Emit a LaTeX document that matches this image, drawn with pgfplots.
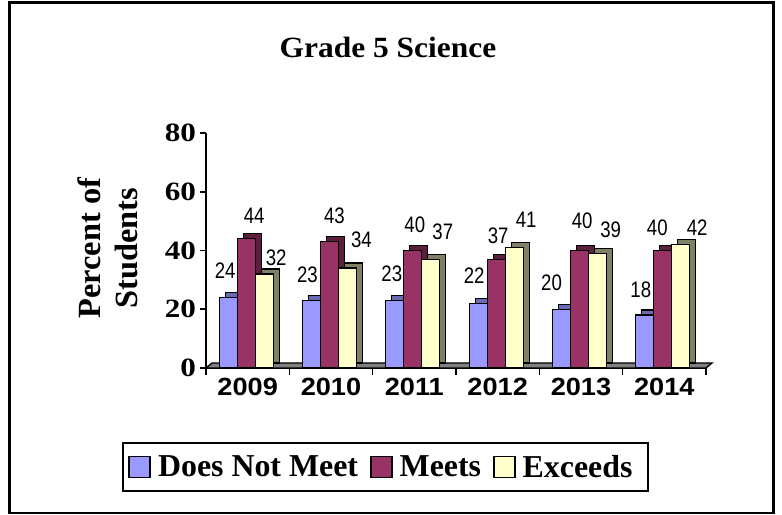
\documentclass[border=0pt]{standalone}
\usepackage{fontspec}
\setmainfont{Liberation Serif}
\newfontfamily\titlefont[FakeStretch=1.07]{Liberation Serif}
\newfontfamily\ytfont[FakeStretch=1.18]{Liberation Serif}
\newfontfamily\xtfont[FakeStretch=1.09]{Liberation Sans}
\newfontfamily\dlfont[FakeStretch=0.83]{Liberation Sans}
\usepackage{pgfplots}
\pgfplotsset{compat=1.18}
\usepackage{pgfplotstable}

\definecolor{cBlue}{HTML}{9999FF}
\definecolor{cBlueD}{HTML}{6B6BB3}
\definecolor{cMaroon}{HTML}{993366}
\definecolor{cMaroonD}{HTML}{5C1F3D}
\definecolor{cYellow}{HTML}{FFFFCC}
\definecolor{cYellowD}{HTML}{808066}
\definecolor{cFloor}{HTML}{808080}

% x = year index (2009..2014), y = percent, dx/dy = label position (bp) from category centre / bar top
\pgfplotstableread{
x y dx dy
0 24 -22.5 26.5
1 23 -23.5 26
2 23 -22.5 26.4
3 22 -23.5 28
4 20 -29.5 26
5 18 -23.5 25
}\tblue
\pgfplotstableread{
x y dx dy
0 44 6.5 23
1 43 3.5 26
2 40 0.5 25.5
3 37 0.5 24
4 40 1.2 30
5 40 -7 22.5
}\tmaroon
\pgfplotstableread{
x y dx dy
0 32 28.5 16.5
1 34 30.5 28
2 37 28.5 28
3 41 28.5 27.6
4 39 29.7 23.4
5 42 32.8 16.6
}\tyellow

\pgfplotsset{
  mylegend/.style={legend image code/.code={\draw[##1, draw=black, line width=1.6bp] (0bp,-10.5bp) rectangle (21bp,10.5bp);}},
  frontbar/.style={ybar, bar width=18bp, draw=black, line width=1.3bp,
    visualization depends on={\thisrow{dx} \as \ldx},
    visualization depends on={\thisrow{dy} \as \ldy},
    nodes near coords,
    every node near coord/.append style={font=\dlfont\fontsize{22.5}{23}\selectfont, anchor=center, inner sep=0pt, text=black, xshift=\ldx*1bp, yshift=\ldy*1bp}},
  backbar/.style={ybar, bar width=18bp, draw=black, line width=1.3bp, yshift=5bp, forget plot},
}

\begin{document}
\begin{tikzpicture}
\useasboundingbox (0,0) rectangle (782bp,515bp);
\draw[line width=2.5bp] (9.5bp,2bp) rectangle (773.5bp,512.5bp);
\begin{axis}[
  at={(206bp,147bp)}, anchor=south west,
  scale only axis, width=500bp, height=235bp,
  xmin=-0.5, xmax=5.5, ymin=0, ymax=80,
  axis lines*=left,
  axis line style={line width=2.4bp, -},
  clip=false,
  ytick={0,20,40,60,80},
  xtick={-0.5,0.5,1.5,2.5,3.5,4.5,5.5},
  xticklabels={2009,2010,2011,2012,2013,2014,{}},
  xticklabel style={xshift=41.67bp, font=\xtfont\bfseries\fontsize{25}{25}\selectfont},
  yticklabel style={font=\ytfont\bfseries\fontsize{26.5}{27}\selectfont},
  /pgf/number format/assume math mode=true,
  tick align=outside,
  major tick length=6.5bp,
  tick style={line width=1.6bp, black},
  title={Grade 5 Science},
  title style={at={(axis description cs:0.364,1.34)}, anchor=center, font=\titlefont\bfseries\fontsize{29.5}{30}\selectfont},
  ylabel={Percent of\\Students},
  ylabel style={at={(axis description cs:-0.196,0.51)}, anchor=center, align=center, font=\bfseries\fontsize{32.5}{37.5}\selectfont},
  legend columns=3,
  legend style={at={(axis description cs:0.359,-0.421)}, anchor=center, draw=black, line width=2bp,
    font=\bfseries\fontsize{32}{34}\selectfont, inner xsep=5bp, inner ysep=12.5bp,
    nodes={inner sep=0pt},
    /tikz/every odd column/.append style={column sep=7bp},
    /tikz/every even column/.append style={column sep=12bp}},
]
\draw[fill=cFloor, draw=black, line width=1.3bp] (axis cs:-0.5,0) -- (axis cs:5.5,0) -- ([shift={(6bp,5bp)}]axis cs:5.5,0) -- ([shift={(6bp,5bp)}]axis cs:-0.5,0) -- cycle;

\addplot[backbar, bar shift=-13.5bp, fill=cBlueD] table[x=x,y=y]{\tblue};
\addplot[frontbar, bar shift=-19.5bp, fill=cBlue, mylegend] table[x=x,y=y]{\tblue};
\addlegendentry{Does Not Meet}
\addplot[backbar, bar shift=4.5bp, fill=cMaroonD] table[x=x,y=y]{\tmaroon};
\addplot[frontbar, bar shift=-1.5bp, fill=cMaroon, mylegend] table[x=x,y=y]{\tmaroon};
\addlegendentry{Meets}
\addplot[backbar, bar shift=22.5bp, fill=cYellowD] table[x=x,y=y]{\tyellow};
\addplot[frontbar, bar shift=16.5bp, fill=cYellow, mylegend] table[x=x,y=y]{\tyellow};
\addlegendentry{Exceeds\hspace*{10bp}}
\end{axis}
\end{tikzpicture}
\end{document}
